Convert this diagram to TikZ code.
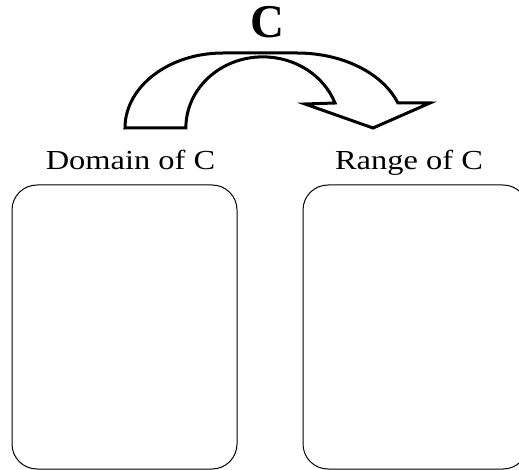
\documentclass[tikz,border=0pt]{standalone}
\usepackage{fontspec}
\setmainfont{Liberation Serif}
\begin{document}
\begin{tikzpicture}[x=1pt,y=-1pt,
  setbox/.style={draw=black, line width=1pt, rounded corners=25pt, minimum width=225pt, minimum height=284pt, inner sep=0pt},
  lbl/.style={font=\fontsize{27.5}{30}\selectfont, anchor=base, inner sep=0pt, xscale=1.18},
  bigarrow/.style={draw=black, line width=3pt, fill=white, line join=miter}]
\clip (0,0) rectangle (519,470);
\useasboundingbox (0,0) rectangle (519,470);
\node[setbox] (dom) at (124.5,327) {};
\node[setbox] (rng) at (415.5,327) {};
\node[lbl] (domlbl) at (130.5,170) {Domain of C};
\node[lbl] (rnglbl) at (409,170) {Range of C};
\node[font=\fontsize{47}{50}\selectfont\bfseries, anchor=base, inner sep=0pt] (clbl) at (267,38) {C};
% curved block arrow
\draw[bigarrow]
  (125,128) arc[start angle=180, end angle=270, x radius=98, y radius=75]
  -- (297,53)
  arc[start angle=270, end angle=340.5, x radius=107, y radius=75]
  -- (430,103) -- (373,128) -- (305,104) -- (335,103)
  arc[start angle=339.5, end angle=270, x radius=77, y radius=71]
  arc[start angle=270, end angle=180, x radius=77, y radius=71]
  -- cycle;
\end{tikzpicture}
\end{document}
